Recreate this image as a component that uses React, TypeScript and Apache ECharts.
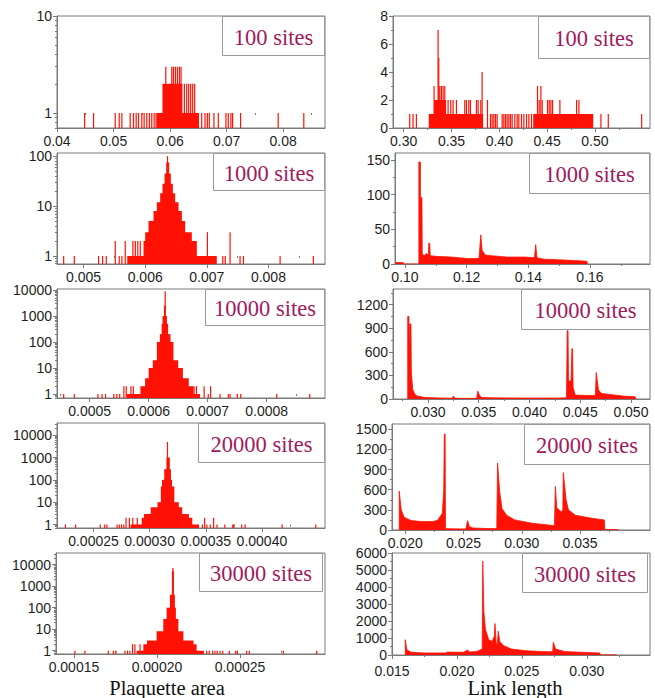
import React, { useEffect, useRef } from 'react';
import * as echarts from 'echarts';

type Block = [number, number, number];
type Spike = [number, number];
type Pt = [number, number];

// ---------- tick labels ----------
const l1XTicks = [0.04, 0.05, 0.06, 0.07, 0.08];
const l2XTicks = [0.005, 0.006, 0.007, 0.008];
const l3XTicks = [0.0005, 0.0006, 0.0007, 0.0008];
const l4XTicks = [0.00025, 0.0003, 0.00035, 0.0004];
const l5XTicks = [0.00015, 0.0002, 0.00025];
const r1XTicks = [0.3, 0.35, 0.4, 0.45, 0.5];
const r2XTicks = [0.1, 0.12, 0.14, 0.16];
const r3XTicks = [0.03, 0.035, 0.04, 0.045, 0.05];
const r4XTicks = [0.02, 0.025, 0.03, 0.035];
const r5XTicks = [0.015, 0.02, 0.025, 0.03];
const r1YTicks = [0, 2, 4, 6, 8];
const r2YTicks = [0, 50, 100, 150];
const r3YTicks = [0, 300, 600, 900, 1200];
const r4YTicks = [0, 300, 600, 900, 1200, 1500];
const r5YTicks = [0, 1000, 2000, 3000, 4000, 5000, 6000];

const siteLabels = ['100 sites', '1000 sites', '10000 sites', '20000 sites', '30000 sites'];
const xTitles = ['Plaquette area', 'Link length'];

// ---------- plaquette area histograms (left) ----------
const l1Spikes: Spike[] = [[0.04488,1],[0.04647,1],[0.0503,1],[0.0510,1],[0.05147,1],[0.05294,1],[0.05353,1],[0.0540,1],[0.05441,1],[0.0550,1],[0.05541,1],[0.05588,1],[0.05635,1],[0.05676,1],[0.05718,1],[0.05753,1],[0.05924,3],[0.0603,3],[0.06059,3],[0.06094,3],[0.06129,3],[0.06165,3],[0.06194,3],[0.06253,2],[0.06294,2],[0.06329,2],[0.06365,2],[0.064,2],[0.06435,2],[0.06559,1],[0.06618,1],[0.06659,1],[0.06694,1],[0.06776,1],[0.06853,1],[0.06988,1],[0.07029,1],[0.07076,1],[0.07106,1],[0.07247,1],[0.07912,1],[0.08365,1]];
const l1Blocks: Block[] = [[0.05765,0.06512,1],[0.05865,0.06218,2]];

const l2Spikes: Spike[] = [[0.004676,1],[0.004849,1],[0.005243,1],[0.005308,1],[0.005368,1],[0.005514,2],[0.005578,1],[0.005622,1],[0.005676,2],[0.005719,1],[0.0058,2],[0.00584,2],[0.00588,2],[0.00592,2],[0.00701,3],[0.00726,1],[0.0073,1],[0.007378,3],[0.00754,1],[0.007595,1],[0.00819,1],[0.00873,1]];
const l2Blocks: Block[] = [[0.005719,0.007162,1],[0.005973,0.006838,2],[0.006,0.006757,3],[0.006054,0.006649,5],[0.006135,0.006595,8],[0.006189,0.006541,12],[0.006243,0.006486,18],[0.006281,0.006449,28],[0.006314,0.006416,45],[0.006341,0.006389,75],[0.006355,0.00637,100]];

const l3Spikes: Spike[] = [[0.000456,1],[0.000474,1],[0.000514,1],[0.000521,1],[0.000527,1],[0.000541,1],[0.000546,1],[0.000551,1],[0.000558,2],[0.000562,2],[0.000566,1],[0.00057,2],[0.000574,2],[0.000578,1],[0.000677,2],[0.000681,2],[0.000694,2],[0.000701,1],[0.000705,2],[0.000721,1],[0.000735,1],[0.000738,1],[0.00075,1],[0.000756,1],[0.000817,1],[0.000873,1]];
const l3Blocks: Block[] = [[0.000563,0.000687,1],[0.000586,0.000676,2],[0.000594,0.000668,4],[0.0006,0.000658,10],[0.000607,0.00065,20],[0.000614,0.000642,100],[0.000619,0.000637,200],[0.000622,0.000633,500],[0.0006235,0.000631,1000],[0.000626,0.000629,2500],[0.0006275,0.0006285,9000]];

const l4Spikes: Spike[] = [[0.000225,1],[0.000234,1],[0.000256,1],[0.00026,1],[0.000262,1],[0.000271,1],[0.000273,1],[0.000275,1],[0.000277,1],[0.000279,2],[0.000282,2],[0.000285,2],[0.000289,2],[0.000347,1],[0.000349,2],[0.000351,1],[0.000354,1],[0.000357,2],[0.00036,1],[0.000367,1],[0.000374,1],[0.000375,1],[0.000382,1],[0.000385,1],[0.000418,1],[0.000448,1]];
const l4Blocks: Block[] = [[0.000283,0.000344,1],[0.000293,0.000338,2],[0.000295,0.000335,3],[0.000301,0.000329,6],[0.000307,0.000326,10],[0.00031,0.000322,50],[0.000311,0.00032,100],[0.000313,0.000319,300],[0.000315,0.000318,1000],[0.0003155,0.0003163,5000]];

const l5Spikes: Spike[] = [[0.0001506,1],[0.0001566,1],[0.0001707,1],[0.0001737,1],[0.0001753,1],[0.0001807,1],[0.0001823,1],[0.0001837,1],[0.0001853,2],[0.0001867,2],[0.0001898,2],[0.0002299,1],[0.0002315,1],[0.0002335,1],[0.0002349,1],[0.0002363,1],[0.000238,1],[0.0002396,1],[0.0002436,1],[0.0002474,1],[0.0002484,1],[0.000254,1],[0.0002556,1],[0.0002761,1],[0.0002962,1]];
const l5Blocks: Block[] = [[0.0001878,0.0002283,1],[0.0001918,0.0002239,2],[0.000194,0.000222,3],[0.0001998,0.0002159,8],[0.0002038,0.0002129,30],[0.0002058,0.0002114,100],[0.0002078,0.0002108,400],[0.000209,0.0002102,5000],[0.0002094,0.0002098,7000]];

// ---------- link length histograms (right) ----------
const r1Spikes: Spike[] = [[0.30628,1],[0.30977,1],[0.31326,1],[0.33176,3],[0.33351,2],[0.33525,2],[0.33595,7],[0.33665,5],[0.3377,3],[0.33944,3],[0.34119,3],[0.34293,3],[0.34642,2],[0.34921,2],[0.35166,2],[0.35515,2],[0.36387,2],[0.36562,2],[0.36806,2],[0.36981,2],[0.37609,2],[0.37784,2],[0.38063,2],[0.38202,4],[0.38761,2],[0.39075,1],[0.3925,1],[0.39424,1],[0.39599,1],[0.39773,1],[0.40297,1],[0.40471,1],[0.40646,1],[0.4082,1],[0.40995,1],[0.41169,1],[0.41344,1],[0.41623,1],[0.41867,1],[0.42042,1],[0.42321,1],[0.42565,1],[0.42845,1],[0.43089,1],[0.43368,1],[0.43997,3],[0.44171,2],[0.44346,3],[0.44485,2],[0.45044,2],[0.45218,2],[0.45393,2],[0.45567,2],[0.46335,2],[0.4808,2],[0.48325,2],[0.50628,1],[0.51396,1],[0.54887,1]];
const r1Blocks: Block[] = [[0.32618,0.38307,1],[0.33176,0.34433,2],[0.43543,0.49825,1]];

const r2Points: Pt[] = [[0.097,0],[0.097,2],[0.0995,2],[0.0995,0],[0.1045,0],[0.1045,147],[0.105,147],[0.105,96],[0.1055,96],[0.1056,15],[0.1062,12],[0.107,15],[0.1076,13],[0.1077,30],[0.108,30],[0.1082,12],[0.11,11],[0.115,10],[0.12,8],[0.124,8],[0.1246,42],[0.125,20],[0.126,13],[0.128,12],[0.133,10],[0.139,10],[0.142,9],[0.1424,28],[0.1428,9],[0.145,7],[0.15,6],[0.155,5],[0.159,4],[0.1592,0]];

const r3Points: Pt[] = [[0.028,0],[0.028,1050],[0.02812,1050],[0.02815,520],[0.0282,955],[0.02832,955],[0.02836,330],[0.0285,120],[0.0287,60],[0.029,35],[0.0297,20],[0.0313,12],[0.0324,10],[0.0325,38],[0.0326,12],[0.033,8],[0.0348,8],[0.0349,100],[0.0351,40],[0.0353,20],[0.0362,15],[0.0395,12],[0.0428,12],[0.04365,15],[0.04372,870],[0.0438,870],[0.04385,230],[0.0441,230],[0.04418,640],[0.04425,640],[0.0443,150],[0.0445,50],[0.0455,45],[0.0465,45],[0.04658,337],[0.04664,337],[0.0468,115],[0.0471,70],[0.0484,50],[0.0494,35],[0.0504,30],[0.0505,0]];

const r4Points: Pt[] = [[0.01948,0],[0.01948,580],[0.01953,580],[0.01965,300],[0.0199,190],[0.0205,140],[0.0214,125],[0.0224,125],[0.0228,150],[0.02318,250],[0.0233,600],[0.02335,1430],[0.02342,1430],[0.02345,20],[0.0252,15],[0.02535,140],[0.0255,50],[0.0258,30],[0.027,22],[0.02785,20],[0.02792,1000],[0.02797,1000],[0.0281,570],[0.0283,320],[0.0287,220],[0.0294,150],[0.0309,100],[0.0328,65],[0.03288,650],[0.03293,650],[0.033,330],[0.0334,270],[0.03352,300],[0.03356,856],[0.03362,856],[0.0338,450],[0.034,300],[0.0346,220],[0.036,175],[0.03708,150],[0.03712,8],[0.0383,5],[0.03832,0]];

const r5Points: Pt[] = [[0.01602,0],[0.01602,900],[0.01607,900],[0.01615,300],[0.0165,160],[0.0175,120],[0.0192,120],[0.01922,170],[0.0205,160],[0.02085,300],[0.0209,180],[0.0215,200],[0.02195,350],[0.02199,5520],[0.02204,5520],[0.02208,2500],[0.0222,1500],[0.02245,900],[0.0227,800],[0.02288,1100],[0.02293,1850],[0.02298,1850],[0.02303,600],[0.02312,700],[0.02318,1400],[0.02323,1400],[0.0233,800],[0.0236,550],[0.0242,350],[0.0253,250],[0.0265,200],[0.02738,190],[0.02742,750],[0.02747,750],[0.0276,350],[0.0283,200],[0.0299,150],[0.031,120],[0.03105,10],[0.0323,8],[0.03232,0]];

// ---------- layout ----------
const RED = '#ff1205';
const AXIS = '#7a7a7a';
const TXT = '#1e1e1e';
const SITE = '#a11a5d';

const toBars = (s: Spike[], b: Block[]): Block[] => [...b, ...s.map(([x, c]) => [x, x, c] as Block)];
const midpoints = (t: number[]): number[] => {
  if (t.length < 2) return [];
  const step = t[1] - t[0];
  const out: number[] = [t[0] - step / 2];
  t.forEach(v => out.push(v + step / 2));
  return out;
};
const logMinor = (lo: number, hi: number): number[] => {
  const out: number[] = [];
  for (let e = Math.floor(Math.log10(lo)) - 1; e <= Math.ceil(Math.log10(hi)); e++) {
    for (let m = 2; m <= 9; m++) {
      const v = m * Math.pow(10, e);
      if (v > lo && v < hi) out.push(Math.log10(v));
    }
  }
  return out;
};

interface Panel {
  grid: [number, number, number, number];
  xMin: number; xMax: number; xTicks: number[]; xDec: number; xMargin: number;
  log: boolean; yMin: number; yMax: number; yTicks?: number[];
  bars?: Block[]; pts?: Pt[];
  box: [number, number, number, number]; label: string;
}

const panels: Panel[] = [
  { grid: [57, 16, 268, 112], xMin: 0.04, xMax: 0.0874, xTicks: l1XTicks, xDec: 2, xMargin: 6, log: true, yMin: 0.7, yMax: 10, bars: toBars(l1Spikes, l1Blocks), box: [222, 16, 103, 40], label: siteLabels[0] },
  { grid: [393, 16, 257, 112], xMin: 0.2888, xMax: 0.5576, xTicks: r1XTicks, xDec: 2, xMargin: 6, log: false, yMin: 0, yMax: 8, yTicks: r1YTicks, bars: toBars(r1Spikes, r1Blocks), box: [538, 16, 112, 43], label: siteLabels[0] },
  { grid: [57, 153, 268, 111], xMin: 0.004568, xMax: 0.008919, xTicks: l2XTicks, xDec: 3, xMargin: 6, log: true, yMin: 0.69, yMax: 116, bars: toBars(l2Spikes, l2Blocks), box: [213, 153, 112, 38], label: siteLabels[1] },
  { grid: [395, 153, 255, 111], xMin: 0.09676, xMax: 0.17946, xTicks: r2XTicks, xDec: 2, xMargin: 6, log: false, yMin: 0, yMax: 160, yTicks: r2YTicks, pts: r2Points, box: [529, 153, 121, 41], label: siteLabels[1] },
  { grid: [57, 289, 268, 109], xMin: 0.0004447, xMax: 0.0008988, xTicks: l3XTicks, xDec: 4, xMargin: 6, log: true, yMin: 0.7, yMax: 10900, bars: toBars(l3Spikes, l3Blocks), box: [205, 289, 120, 37], label: siteLabels[2] },
  { grid: [393, 289, 257, 110], xMin: 0.02655, xMax: 0.05188, xTicks: r3XTicks, xDec: 3, xMargin: 6, log: false, yMin: 0, yMax: 1400, yTicks: r3YTicks, pts: r3Points, box: [521, 289, 129, 41], label: siteLabels[2] },
  { grid: [57, 423, 268, 105], xMin: 0.0002175, xMax: 0.0004562, xTicks: l4XTicks, xDec: 5, xMargin: 6, log: true, yMin: 0.7, yMax: 35000, bars: toBars(l4Spikes, l4Blocks), box: [198, 423, 127, 40], label: siteLabels[3] },
  { grid: [392, 424, 258, 106], xMin: 0.01886, xMax: 0.041, xTicks: r4XTicks, xDec: 3, xMargin: 6, log: false, yMin: 0, yMax: 1580, yTicks: r4YTicks, pts: r4Points, box: [524, 424, 126, 41], label: siteLabels[3] },
  { grid: [56, 553, 269, 101], xMin: 0.0001392, xMax: 0.0003012, xTicks: l5XTicks, xDec: 5, xMargin: 6, log: true, yMin: 0.7, yMax: 35000, bars: toBars(l5Spikes, l5Blocks), box: [199, 553, 124, 39], label: siteLabels[4] },
  { grid: [392, 553, 258, 102], xMin: 0.015, xMax: 0.03487, xTicks: r5XTicks, xDec: 3, xMargin: 8.5, log: false, yMin: 0, yMax: 6000, yTicks: r5YTicks, pts: r5Points, box: [522, 553, 126, 40], label: siteLabels[4] },
];

const renderBar = (params: any, api: any) => {
  const x0 = api.value(0), x1 = api.value(1), c = api.value(2);
  const a = api.coord([x0, c]);
  const b = api.coord([x1, c]);
  const cs = params.coordSys;
  const bottom = cs.y + cs.height;
  let left = a[0];
  let w = b[0] - a[0];
  if (w < 1.2) { left = (a[0] + b[0]) / 2 - 0.6; w = 1.2; }
  return { type: 'rect', shape: { x: left, y: a[1], width: w, height: bottom - a[1] }, style: { fill: RED } };
};

function buildOption() {
  const labelFont = { color: TXT, fontSize: 14, lineHeight: 14, fontFamily: 'Liberation Sans, Arial, sans-serif' };
  const grid = panels.map(p => ({ left: p.grid[0], top: p.grid[1], width: p.grid[2], height: p.grid[3], show: true, borderColor: AXIS, borderWidth: 1, backgroundColor: 'transparent' }));
  const hidden = { axisLine: { show: false }, axisLabel: { show: false }, splitLine: { show: false } };
  const xAxis: any[] = panels.map((p, i) => ({
    type: 'value', gridIndex: i, min: p.xMin, max: p.xMax,
    axisLine: { show: true, onZero: false, lineStyle: { color: AXIS } },
    axisTick: { show: true, customValues: p.xTicks, length: 4, lineStyle: { color: AXIS } },
    axisLabel: { ...labelFont, customValues: p.xTicks, margin: p.xMargin, formatter: (v: number) => v.toFixed(p.xDec) },
    splitLine: { show: false },
  }));
  panels.forEach((p, i) => xAxis.push({
    type: 'value', gridIndex: i, min: p.xMin, max: p.xMax, position: 'bottom', ...hidden,
    axisTick: { show: true, customValues: midpoints(p.xTicks).filter(v => v > p.xMin && v < p.xMax), length: 2, lineStyle: { color: AXIS } },
  }));
  const yAxis: any[] = panels.map((p, i) => p.log ? ({
    type: 'log', logBase: 10, gridIndex: i, min: p.yMin, max: p.yMax,
    axisLine: { show: true, lineStyle: { color: AXIS } },
    axisTick: { show: true, length: 4, lineStyle: { color: AXIS } },
    axisLabel: { ...labelFont, margin: 5, showMinLabel: false, showMaxLabel: Math.abs(Math.log10(p.yMax) % 1) < 1e-9, formatter: (v: number) => String(Math.round(v)) },
    splitLine: { show: false },
  }) : ({
    type: 'value', gridIndex: i, min: p.yMin, max: p.yMax,
    axisLine: { show: true, lineStyle: { color: AXIS } },
    axisTick: { show: true, customValues: p.yTicks, length: 4, lineStyle: { color: AXIS } },
    axisLabel: { ...labelFont, customValues: p.yTicks, margin: 5, formatter: (v: number) => String(v) },
    splitLine: { show: false },
  }));
  panels.forEach((p, i) => {
    if (p.log) {
      yAxis.push({
        type: 'value', gridIndex: i, min: Math.log10(p.yMin), max: Math.log10(p.yMax), position: 'left', ...hidden,
        axisTick: { show: true, customValues: logMinor(p.yMin, p.yMax), length: 2, lineStyle: { color: AXIS } },
      });
    } else {
      const t = p.yTicks as number[];
      yAxis.push({
        type: 'value', gridIndex: i, min: p.yMin, max: p.yMax, position: 'left', ...hidden,
        axisTick: { show: true, customValues: midpoints(t).filter(v => v > p.yMin && v < p.yMax), length: 2, lineStyle: { color: AXIS } },
      });
    }
  });
  const series = panels.map((p, i) => p.bars ? ({
    type: 'custom', xAxisIndex: i, yAxisIndex: i, renderItem: renderBar, data: p.bars,
    encode: { x: [0, 1], y: 2 }, clip: true, silent: true,
  }) : ({
    type: 'line', xAxisIndex: i, yAxisIndex: i, data: p.pts, symbol: 'none', showSymbol: false,
    lineStyle: { color: RED, width: 0.8 }, areaStyle: { color: RED, opacity: 1 }, silent: true,
  }));
  const graphic: any[] = [];
  panels.forEach(p => {
    const [bx, by, bw, bh] = p.box;
    graphic.push({ type: 'rect', shape: { x: bx + 0.5, y: by + 0.5, width: bw - 1, height: bh - 1 }, style: { fill: '#fff', stroke: '#9a9a9a', lineWidth: 1 }, z: 100 });
    graphic.push({ type: 'text', x: bx + bw / 2, y: by + bh / 2 + 1, style: { text: p.label, fill: SITE, font: '22.5px "Liberation Serif", serif', textAlign: 'center', textVerticalAlign: 'middle' }, z: 101 });
  });
  graphic.push({ type: 'text', x: 167, y: 688, style: { text: xTitles[0], fill: '#111', font: '20.5px "Liberation Serif", serif', textAlign: 'center', textVerticalAlign: 'middle' }, z: 101 });
  graphic.push({ type: 'text', x: 515, y: 688, style: { text: xTitles[1], fill: '#111', font: '20.5px "Liberation Serif", serif', textAlign: 'center', textVerticalAlign: 'middle' }, z: 101 });
  return { animation: false, backgroundColor: '#fff', grid, xAxis, yAxis, series, graphic };
}

export default function App() {
  const ref = useRef<HTMLDivElement>(null);
  useEffect(() => {
    if (!ref.current) return;
    const chart = echarts.init(ref.current, undefined, { renderer: 'svg' });
    chart.setOption(buildOption() as any);
    return () => chart.dispose();
  }, []);
  return <div ref={ref} style={{ position: 'fixed', left: 0, top: 0, width: 655, height: 698, background: '#fff' }} />;
}
